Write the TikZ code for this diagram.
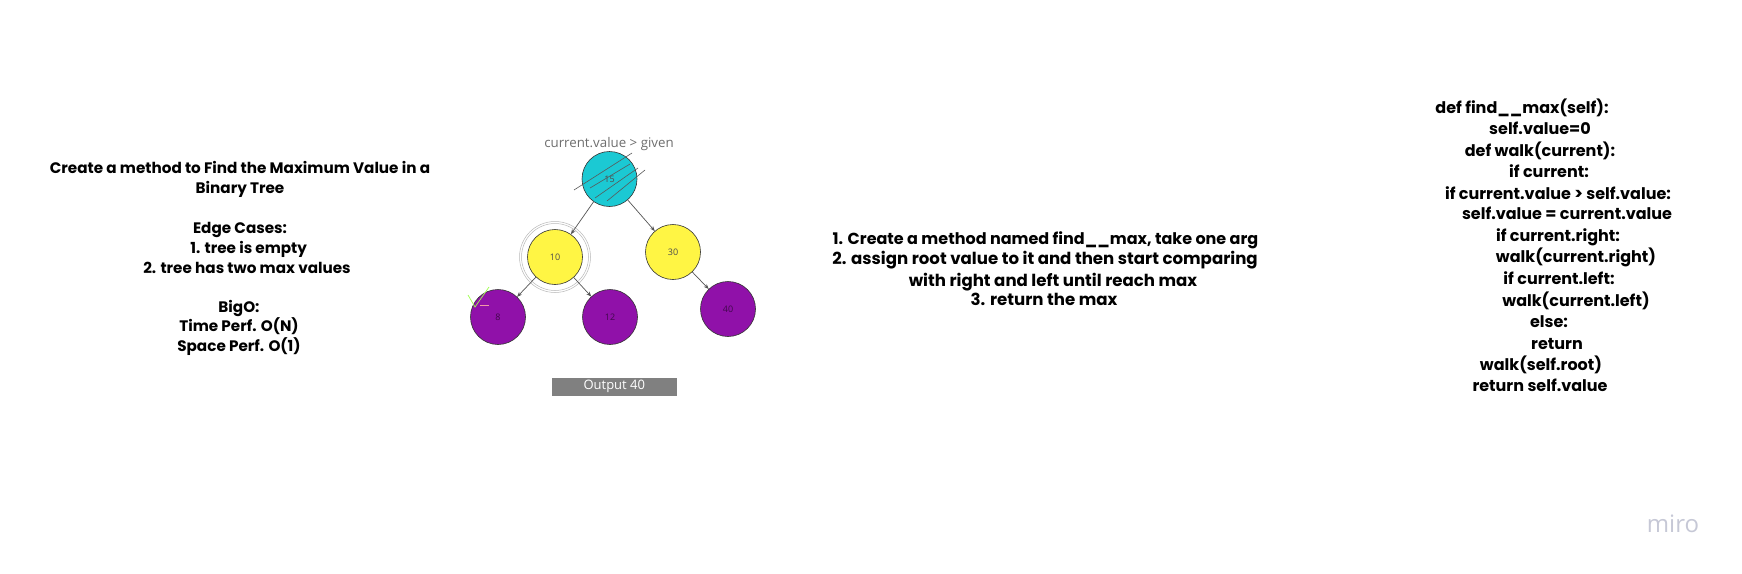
\documentclass[tikz,border=0pt]{standalone}
\usepackage{fontspec}
\setmainfont{Poppins}
\newfontfamily\osans{Open Sans}
\usetikzlibrary{arrows.meta}
\definecolor{cyanN}{HTML}{1BC9D3}
\definecolor{yelN}{HTML}{FFF544}
\definecolor{purN}{HTML}{9011A9}
\definecolor{edgeC}{HTML}{555555}
\definecolor{greyT}{HTML}{6E6E6E}
\definecolor{miroC}{HTML}{C6C8D6}
\tikzset{
  tnode/.style={circle, draw=black!80, line width=0.6pt, minimum size=55pt, inner sep=0pt,
    font=\osans\fontsize{9}{10}\selectfont, text=black!70},
  tedge/.style={draw=edgeC, line width=0.7pt, -{Stealth[length=5pt,width=4pt]}},
  lefttxt/.style={anchor=base, inner sep=0pt, font=\bfseries\fontsize{15.2}{17}\selectfont},
  midtxt/.style={anchor=base, inner sep=0pt, font=\bfseries\fontsize{16.6}{18}\selectfont},
  codetxt/.style={anchor=base, inner sep=0pt, font=\bfseries\fontsize{16}{18}\selectfont},
  hatch/.style={draw=black!65, line width=0.6pt},
}
\begin{document}
\begin{tikzpicture}[x=1pt,y=-1pt]
\useasboundingbox[fill=white] (0,0) rectangle (1742,573);

% left text block
\node[lefttxt] (l1) at (240,173) {Create a method to Find the Maximum Value in a};
\node[lefttxt] (l2) at (240,193) {Binary Tree};
\node[lefttxt] (l3) at (240,233) {Edge Cases:};
\node[lefttxt] (l4) at (248.7,253) {1. tree is empty};
\node[lefttxt] (l5) at (247,273) {2. tree has two max values};
\node[lefttxt] (l6) at (239,312) {BigO:};
\node[lefttxt] (l7) at (239,331) {Time Perf. O(N)};
\node[lefttxt] (l8) at (239,351) {Space Perf. O(1)};

% tree
\node[inner sep=0pt, anchor=base, text=greyT, font=\osans\fontsize{13.3}{15}\selectfont] (given) at (609,147) {current.value > given};

\draw[gray!55, line width=0.5pt] (555,257) circle (33.5);
\draw[gray!55, line width=0.5pt] (555,257) circle (35.5);

\node[tnode, fill=cyanN] (n15) at (609.5,179) {15};
\node[tnode, fill=yelN] (n10) at (555,257) {10};
\node[tnode, fill=yelN] (n30) at (673,252) {30};
\node[tnode, fill=purN, text=purN!45!black] (n8) at (498,317) {8};
\node[tnode, fill=purN, text=purN!45!black] (n12) at (610,317) {12};
\node[tnode, fill=purN, text=purN!45!black] (n40) at (728,309) {40};

% hatching on root
\draw[hatch] (574,190) -- (632,153);
\draw[hatch] (590,188) -- (630,164);
\draw[hatch] (595,198) -- (638,168);
\draw[hatch] (607,201) -- (645,170);

% check mark near 8
\draw[green!40!lime!70!white, line width=0.7pt] (468,295) -- (475,307) -- (489,287);
\draw[pink!80!purple, line width=0.9pt] (480,305) -- (489,305);

\draw[tedge] (n15) -- (n10);
\draw[tedge] (n15) -- (n30);
\draw[tedge] (n10) -- (n8);
\draw[tedge] (n10) -- (n12);
\draw[tedge] (n30) -- (n40);

\node[fill=black!50, text=white, minimum width=125pt, minimum height=18pt, inner sep=0pt,
  font=\osans\fontsize{13}{14}\selectfont] (out) at (614.3,386.6) {Output 40};

% middle text
\node[midtxt, font=\bfseries\fontsize{16}{18}\selectfont] (m1) at (1045.5,244.5) {1. Create a method named find\_\_max, take one arg};
\node[midtxt] (m2) at (1045,264.5) {2. assign root value to it and then start comparing};
\node[midtxt] (m3) at (1053,286) {with right and left until reach max};
\node[midtxt] (m4) at (1044,305.5) {3. return the max};

% code
\node[codetxt] (c1) at (1522,113.7) {def find\_\_max(self):};
\node[codetxt] (c2) at (1540,134.3) {self.value=0};
\node[codetxt] (c3) at (1540,156) {def walk(current):};
\node[codetxt] (c4) at (1549,177.7) {if current:};
\node[codetxt] (c5) at (1558,199.3) {if current.value > self.value:};
\node[codetxt] (c6) at (1567,219.3) {self.value = current.value};
\node[codetxt] (c7) at (1558,241) {if current.right:};
\node[codetxt] (c8) at (1576,262.7) {walk(current.right)};
\node[codetxt] (c9) at (1559,284.3) {if current.left:};
\node[codetxt] (c10) at (1576,306) {walk(current.left)};
\node[codetxt] (c11) at (1549,327.7) {else:};
\node[codetxt] (c12) at (1557,349.3) {return};
\node[codetxt] (c13) at (1541,370.3) {walk(self.root)};
\node[codetxt] (c14) at (1540,391) {return self.value};

% watermark
\node[inner sep=0pt, anchor=base, text=miroC, font=\osans\fontsize{24}{26}\selectfont] (miro) at (1673,532) {miro};
\end{tikzpicture}
\end{document}
